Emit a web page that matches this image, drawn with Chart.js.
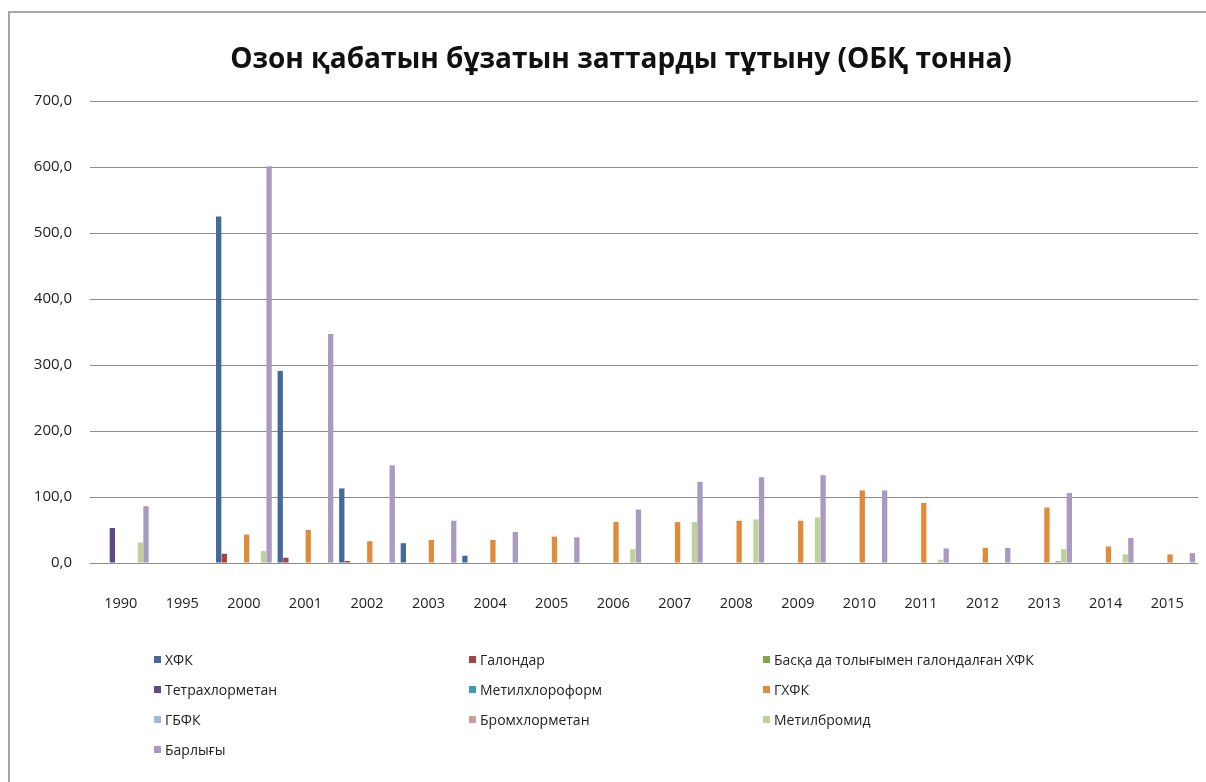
<!DOCTYPE html>
<html>
<head>
<meta charset="utf-8">
<script src="https://cdn.jsdelivr.net/npm/chart.js@4.4.1/dist/chart.umd.min.js"></script>
<style>
  html, body { margin: 0; padding: 0; background: #fff; }
  body { width: 1206px; height: 782px; position: relative; overflow: hidden; font-family: 'Open Sans', sans-serif; }
  .frame { position: absolute; left: 8px; top: 11px; width: 1210px; height: 790px; border: 2px solid #a6a6a6; box-sizing: border-box; }
  .chart-box { position: absolute; left: 0; top: 0; width: 1206px; height: 782px; }
  .chart-title { position: absolute; left: 0; top: 37px; width: 1242px; line-height: 40px; text-align: center; font-weight: bold; font-size: 28px; color: #111; }
  .legend { position: absolute; left: 154px; top: 644px; display: grid; grid-template-columns: 315px 294px auto; grid-auto-rows: 30px; font-size: 14px; color: #222; }
  .legend-item { display: flex; align-items: center; white-space: nowrap; }
  .legend-item span.box { width: 7px; height: 7px; margin-right: 4px; flex: none; }
</style>
</head>
<body>
<div class="frame"></div>
<div class="chart-box"><canvas id="ozone-chart" width="1206" height="782"></canvas></div>
<div class="chart-title">Озон қабатын бұзатын заттарды тұтыну (ОБҚ тонна)</div>
<div class="legend" id="legend"></div>
<script>
const years = ['1990', '1995', '2000', '2001', '2002', '2003', '2004', '2005', '2006',
  '2007', '2008', '2009', '2010', '2011', '2012', '2013', '2014', '2015'];

// ОБҚ тонна
const hfk =                [0, 0, 525, 291, 113, 30, 11, 0, 0, 0, 0, 0, 0, 0, 0, 0, 0, 0];
const halons =             [0, 0, 14, 8, 3, 0, 0, 0, 0, 0, 0, 0, 0, 0, 0, 0, 0, 0];
const otherCfc =           [0, 0, 0, 0, 0, 0, 0, 0, 0, 0, 0, 0, 0, 0, 0, 0, 0, 0];
const carbonTet =          [53, 0, 0, 0, 0, 0, 0, 0, 0, 0, 0, 0, 0, 0, 0, 0, 0, 0];
const methylChloroform =   [0, 0, 0, 0, 0, 0, 0, 0, 0, 0, 0, 0, 0, 0, 0, 0, 0, 0];
const hcfc =               [0, 0, 43, 50, 33, 35, 35, 40, 62, 62, 64, 64, 110, 91, 23, 84, 25, 13];
const hbfc =               [0, 0, 0, 0, 0, 0, 0, 0, 0, 0, 0, 0, 0, 0, 0, 0, 0, 0];
const bromochloromethane = [0, 0, 0, 0, 0, 0, 0, 0, 0, 0, 0, 0, 0, 0, 0, 3, 0, 0];
const methylBromide =      [31, 0, 18, 0, 0, 0, 0, 0, 21, 62, 66, 69, 0, 5, 0, 21, 13, 0];
const total =              [86, 0, 601, 347, 148, 64, 47, 39, 81, 123, 130, 133, 110, 22, 23, 106, 38, 15];

const yTicks = [0, 100, 200, 300, 400, 500, 600, 700];

const series = [
  { label: 'ХФК', data: hfk, color: '#44699a' },
  { label: 'Галондар', data: halons, color: '#a8423f' },
  { label: 'Басқа да толығымен галондалған ХФК', data: otherCfc, color: '#86a34c' },
  { label: 'Тетрахлорметан', data: carbonTet, color: '#5f4b84' },
  { label: 'Метилхлороформ', data: methylChloroform, color: '#3f9ab3' },
  { label: 'ГХФК', data: hcfc, color: '#e08b3c' },
  { label: 'ГБФК', data: hbfc, color: '#a3b7d6' },
  { label: 'Бромхлорметан', data: bromochloromethane, color: '#d49a98' },
  { label: 'Метилбромид', data: methylBromide, color: '#bfd19b' },
  { label: 'Барлығы', data: total, color: '#a99bbf' }
];

const fontFamily = "'Open Sans', sans-serif";

const chart = new Chart(document.getElementById('ozone-chart'), {
  type: 'bar',
  data: {
    labels: years,
    datasets: series.map(s => ({
      label: s.label,
      data: s.data,
      backgroundColor: s.color,
      borderWidth: 0,
      categoryPercentage: 0.91,
      barPercentage: 0.95
    }))
  },
  options: {
    responsive: false,
    animation: false,
    layout: { padding: { left: 0, top: 101, right: 8, bottom: 169 } },
    plugins: {
      legend: { display: false },
      title: { display: false },
      tooltip: { enabled: false }
    },
    scales: {
      x: {
        grid: { display: false, drawTicks: false },
        border: { display: false },
        ticks: { color: '#222', padding: 32, font: { family: fontFamily, size: 14.5 } },
        afterFit: (scale) => {
          scale.height = 50;
          // labels sit inside their categories, no extra side room needed
          scale.paddingLeft = 0;
          scale.paddingRight = 0;
        }
      },
      y: {
        min: 0,
        max: 700,
        afterBuildTicks: (scale) => { scale.ticks = yTicks.map(v => ({ value: v })); },
        grid: { color: '#8c8c8c', lineWidth: 1, drawTicks: false },
        border: { display: false },
        ticks: {
          color: '#222',
          padding: 18,
          font: { family: fontFamily, size: 15 },
          callback: (v) => v.toFixed(1).replace('.', ',')
        },
        afterFit: (scale) => { scale.width = 90; }
      }
    }
  }
});

// legend laid out in three columns like the original
const legend = document.getElementById('legend');
chart.data.datasets.forEach(ds => {
  const item = document.createElement('div');
  item.className = 'legend-item';
  item.innerHTML = `<span class="box" style="background:${ds.backgroundColor}"></span><span>${ds.label}</span>`;
  legend.appendChild(item);
});
</script>
</body>
</html>
